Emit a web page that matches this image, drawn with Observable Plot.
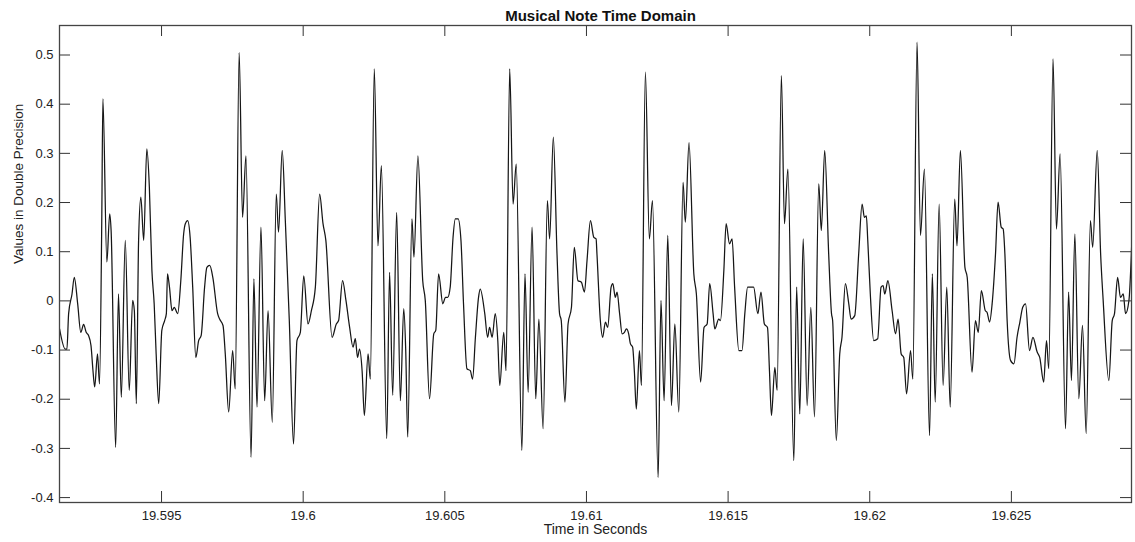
<!DOCTYPE html>
<html><head><meta charset="utf-8">
<script src="https://cdn.jsdelivr.net/npm/d3@7"></script>
<script src="https://cdn.jsdelivr.net/npm/@observablehq/plot@0.6"></script>
<style>body{margin:0;background:#fff;} #chart svg{display:block}</style>
</head><body><div id="chart"></div>
<script>
const seg1Time = [19.59140,19.59160,19.59166,19.59172,19.59184,19.59192,19.59204,19.59215,19.59225,19.59234,
19.59242,19.59251,19.59258,19.59264,19.59274,19.59281,19.59289,19.59293,19.59307,19.59317,
19.59322,19.59338,19.59348,19.59358,19.59372,19.59386,19.59398,19.59404,19.59411,19.59419,
19.59427,19.59437,19.59448,19.59457,19.59466,19.59474,19.59481,19.59490,19.59501,19.59511,
19.59517,19.59521,19.59528,19.59537,19.59545,19.59557,19.59568,19.59578,19.59584,19.59592];
const seg1Value = [-0.057,-0.098,-0.098,-0.026,0.014,0.048,-0.006,-0.064,-0.048,-0.064,
-0.070,-0.091,-0.142,-0.175,-0.108,-0.169,0.163,0.411,0.079,0.177,
0.143,-0.298,0.014,-0.196,0.123,-0.182,0.001,-0.020,-0.209,0.123,
0.211,0.123,0.309,0.231,0.062,-0.006,-0.108,-0.209,-0.060,-0.040,
-0.026,0.055,0.028,-0.020,-0.013,-0.026,0.041,0.136,0.157,0.163];

const seg2Time = [19.59601,19.59610,19.59621,19.59631,19.59640,19.59652,19.59660,19.59670,19.59681,19.59698,
19.59705,19.59717,19.59725,19.59737,19.59751,19.59760,19.59774,19.59786,19.59798,19.59816,
19.59826,19.59837,19.59851,19.59864,19.59876,19.59891,19.59905,19.59913,19.59926,19.59937,
19.59951,19.59966,19.59978,19.59990,19.60002,19.60017,19.60029,19.60043,19.60058];
const seg2Value = [0.129,0.028,-0.115,-0.081,-0.070,0.028,0.068,0.072,0.048,-0.026,
-0.037,-0.050,-0.108,-0.226,-0.101,-0.179,0.505,0.170,0.295,-0.318,
0.045,-0.216,0.150,-0.203,-0.020,-0.247,0.217,0.140,0.306,0.163,
-0.040,-0.291,-0.081,-0.064,0.051,-0.047,-0.020,0.028,0.217];

const seg3Time = [19.60070,19.60080,19.60102,19.60117,19.60125,19.60139,19.60151,19.60164,19.60176,19.60184,
19.60192,19.60199,19.60208,19.60216,19.60229,19.60237,19.60251,19.60264,19.60276,19.60295,
19.60305,19.60316,19.60330,19.60343,19.60355,19.60362,19.60369,19.60384,19.60391,19.60405,
19.60422,19.60431,19.60446,19.60461,19.60468,19.60478,19.60493,19.60502,19.60510,19.60519,
19.60529,19.60537];
const seg3Value = [0.157,0.123,-0.074,-0.047,-0.040,0.041,0.001,-0.054,-0.094,-0.077,
-0.115,-0.098,-0.142,-0.233,-0.108,-0.159,0.472,0.112,0.275,-0.280,
0.058,-0.192,0.180,-0.203,-0.016,-0.101,-0.277,0.167,0.089,0.295,
0.041,0.001,-0.199,-0.067,-0.060,0.055,-0.006,0.007,0.007,0.028,
0.129,0.167];

const seg4Time = [19.60547,19.60557,19.60566,19.60578,19.60590,19.60598,19.60608,19.60619,19.60625,19.60641,
19.60651,19.60658,19.60667,19.60678,19.60687,19.60694,19.60708,19.60716,19.60729,19.60741,
19.60752,19.60772,19.60783,19.60794,19.60808,19.60821,19.60832,19.60847,19.60862,19.60870,
19.60883,19.60896,19.60905,19.60911,19.60924,19.60935,19.60947,19.60957,19.60970,19.60982,
19.60993,19.61002,19.61014];
const seg4Value = [0.167,0.123,-0.006,-0.138,-0.142,-0.159,-0.074,0.007,0.024,-0.026,
-0.074,-0.054,-0.074,-0.026,-0.081,-0.172,-0.064,-0.142,0.472,0.197,
0.278,-0.304,0.055,-0.186,0.150,-0.199,-0.037,-0.260,0.204,0.126,
0.333,0.096,-0.026,-0.040,-0.206,-0.047,-0.013,0.109,0.041,0.038,
0.018,0.082,0.163];

const seg5Time = [19.61026,19.61034,19.61037,19.61049,19.61057,19.61067,19.61075,19.61087,19.61093,19.61102,
19.61108,19.61117,19.61126,19.61134,19.61141,19.61149,19.61155,19.61163,19.61169,19.61176,
19.61187,19.61194,19.61208,19.61222,19.61233,19.61253,19.61263,19.61274,19.61287,19.61300,
19.61312,19.61326,19.61341,19.61349,19.61362,19.61379,19.61388,19.61403,19.61415,19.61426,
19.61435,19.61447,19.61453,19.61467,19.61473,19.61485,19.61493];
const seg5Value = [0.129,0.126,0.096,-0.040,-0.074,-0.043,-0.054,0.028,0.035,0.007,
0.018,-0.026,-0.067,-0.064,-0.057,-0.067,-0.087,-0.094,-0.142,-0.220,
-0.101,-0.172,0.465,0.126,0.204,-0.359,0.001,-0.203,0.133,-0.213,
-0.047,-0.226,0.241,0.160,0.322,0.055,0.014,-0.165,-0.054,-0.047,
0.035,-0.026,-0.057,-0.037,-0.040,0.062,0.157];

const seg6Time = [19.61505,19.61514,19.61523,19.61538,19.61549,19.61559,19.61569,19.61590,19.61605,19.61616,
19.61628,19.61639,19.61646,19.61653,19.61665,19.61673,19.61688,19.61699,19.61711,19.61732,
19.61742,19.61753,19.61765,19.61779,19.61792,19.61805,19.61820,19.61829,19.61841,19.61855,
19.61865,19.61869,19.61882,19.61894,19.61902,19.61914,19.61926,19.61934,19.61947,19.61961,
19.61973];
const seg6Value = [0.116,0.126,0.028,-0.101,-0.101,-0.026,0.028,0.028,-0.026,0.018,
-0.047,-0.054,-0.142,-0.233,-0.135,-0.182,0.458,0.157,0.268,-0.325,
0.028,-0.230,0.126,-0.213,-0.013,-0.236,0.238,0.143,0.306,0.096,
-0.026,-0.040,-0.284,-0.108,-0.074,0.035,-0.006,-0.037,-0.030,0.096,
0.197];

const seg7Time = [19.61981,19.61988,19.61993,19.62002,19.62014,19.62028,19.62040,19.62047,19.62053,19.62064,
19.62079,19.62091,19.62100,19.62111,19.62120,19.62130,19.62144,19.62152,19.62167,19.62179,
19.62193,19.62211,19.62221,19.62231,19.62245,19.62259,19.62272,19.62284,19.62300,19.62308,
19.62320,19.62336,19.62344,19.62361,19.62373,19.62383,19.62394,19.62408,19.62414,19.62423,
19.62432,19.62444,19.62453];
const seg7Value = [0.170,0.173,0.123,0.014,-0.081,-0.077,0.028,0.031,0.014,0.041,
-0.020,-0.067,-0.037,-0.108,-0.115,-0.189,-0.101,-0.159,0.526,0.133,
0.268,-0.274,0.055,-0.206,0.197,-0.172,0.028,-0.216,0.207,0.112,
0.306,0.068,0.048,-0.145,-0.040,-0.064,0.021,-0.020,-0.023,-0.043,
-0.006,0.096,0.201];

const seg8Time = [19.62464,19.62471,19.62477,19.62485,19.62497,19.62509,19.62520,19.62530,19.62540,19.62550,
19.62564,19.62576,19.62591,19.62600,19.62614,19.62624,19.62632,19.62647,19.62659,19.62672,
19.62691,19.62702,19.62712,19.62724,19.62738,19.62751,19.62764,19.62779,19.62787,19.62803,
19.62815,19.62824,19.62844,19.62856,19.62864,19.62875,19.62885,19.62895,19.62903,19.62915,
19.62926];
const seg8Value = [0.150,0.146,0.096,-0.040,-0.121,-0.128,-0.074,-0.043,-0.013,-0.006,
-0.101,-0.074,-0.104,-0.115,-0.165,-0.081,-0.138,0.492,0.146,0.299,
-0.260,0.018,-0.162,0.136,-0.199,-0.050,-0.270,0.163,0.109,0.306,
0.096,0.001,-0.162,-0.040,-0.026,0.048,0.007,0.014,-0.026,0.001,
0.135];

const xTicks = [19.595, 19.6, 19.605, 19.61, 19.615, 19.62, 19.625];
const xTickLabels = ["19.595", "19.6", "19.605", "19.61", "19.615", "19.62", "19.625"];
const yTicks = [-0.4, -0.3, -0.2, -0.1, 0, 0.1, 0.2, 0.3, 0.4, 0.5];
const yTickLabels = ["-0.4", "-0.3", "-0.2", "-0.1", "0", "0.1", "0.2", "0.3", "0.4", "0.5"];
const xDomain = [19.591398, 19.62924];
const yDomain = [-0.41, 0.56];
const titleText = "Musical Note Time Domain";
const xLabelText = "Time in Seconds";
const yLabelText = "Values in Double Precision";

const times = [].concat(seg1Time, seg2Time, seg3Time, seg4Time, seg5Time, seg6Time, seg7Time, seg8Time);
const values = [].concat(seg1Value, seg2Value, seg3Value, seg4Value, seg5Value, seg6Value, seg7Value, seg8Value);
const samples = times.map((t, i) => ({t, v: values[i]}));

const W = 1135, H = 542, mL = 59, mR = 4, mT = 25, mB = 40;
const innerH = H - mT - mB, innerW = W - mL - mR;
const tickLen = 11;
const font = '"Liberation Sans", Arial, Helvetica, sans-serif';

const chart = Plot.plot({
  width: W, height: H,
  marginLeft: mL, marginRight: mR, marginTop: mT, marginBottom: mB,
  style: {fontFamily: font, fontSize: "13px", color: "#222", background: "#fff", overflow: "visible"},
  x: {domain: xDomain, axis: null},
  y: {domain: yDomain, axis: null},
  marks: [
    Plot.line(samples, {x: "t", y: "v", stroke: "#161616", strokeWidth: 1.25, curve: "monotone-x", clip: true}),
    Plot.ruleX(xTicks, {x: d => d, insetTop: innerH - tickLen, stroke: "#333", strokeWidth: 1}),
    Plot.ruleX(xTicks, {x: d => d, insetBottom: innerH - tickLen, stroke: "#333", strokeWidth: 1}),
    Plot.ruleY(yTicks, {y: d => d, insetRight: innerW - tickLen, stroke: "#333", strokeWidth: 1}),
    Plot.ruleY(yTicks, {y: d => d, insetLeft: innerW - tickLen, stroke: "#333", strokeWidth: 1}),
    Plot.frame({stroke: "#444", strokeWidth: 1.3}),
    Plot.text(xTicks, {x: d => d, text: (d, i) => xTickLabels[i], frameAnchor: "bottom", lineAnchor: "top", dy: 8, fontSize: 13, fill: "#222"}),
    Plot.text(yTicks, {y: d => d, text: (d, i) => yTickLabels[i], frameAnchor: "left", textAnchor: "end", dx: -6, fontSize: 13, fill: "#222"}),
    Plot.text([titleText], {frameAnchor: "top", lineAnchor: "top", dy: -15, dx: 5, fontWeight: "bold", fontSize: 15, fill: "#111"}),
    Plot.text([xLabelText], {frameAnchor: "bottom", dy: 31, fontSize: 14, fill: "#222"}),
    Plot.text([yLabelText], {frameAnchor: "left", dx: -41, rotate: -90, fontSize: 13.5, fill: "#222"})
  ]
});
document.getElementById("chart").appendChild(chart);
</script>
</body></html>
